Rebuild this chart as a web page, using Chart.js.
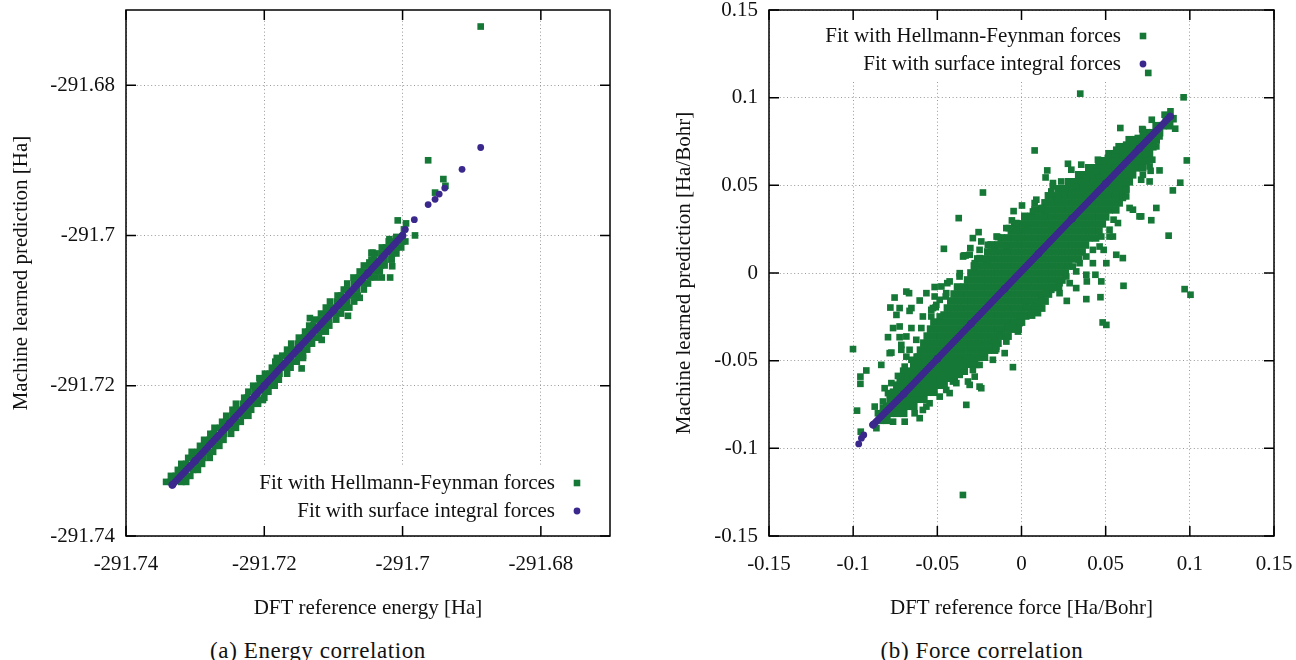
<!DOCTYPE html>
<html>
<head>
<meta charset="utf-8">
<script src="https://cdn.jsdelivr.net/npm/chart.js@4"></script>
<style>
  body { margin: 0; width: 1296px; height: 660px; background: #fff; position: relative; overflow: hidden; }
  canvas { position: absolute; top: 0; }
  .caption { position: absolute; top: 639px; width: 400px; text-align: center; font: 23px "Liberation Serif", serif; letter-spacing: 0.6px; line-height: 23px; color: #111; }
</style>
</head>
<body>
<canvas id="energyChart" width="640" height="625" style="left:0"></canvas>
<canvas id="forceChart" width="646" height="625" style="left:650px"></canvas>
<div class="caption" style="left:118px">(a) Energy correlation</div>
<div class="caption" style="left:782px">(b) Force correlation</div>
<script>
const labelHF = 'Fit with Hellmann-Feynman forces';
const labelSI = 'Fit with surface integral forces';
const green = '#167836';
const blue = '#3a288c';

// (a) energy axes [Ha]
const energyRange = [-291.74, -291.67];
const energyTicks = [-291.74, -291.72, -291.7, -291.68];
const energyTickLabels = ['-291.74', '-291.72', '-291.7', '-291.68'];

// (a) surface integral fit: dense run along the diagonal, then single points
const energySiBandX = [-291.7333, -291.7300, -291.7250, -291.7200, -291.7150, -291.7100, -291.7050, -291.7000];
const energySiBandY = [-291.7332, -291.7300, -291.7250, -291.7200, -291.7150, -291.7100, -291.7050, -291.7000];
const energySiPoints = [
  [-291.6996, -291.6992], [-291.6983, -291.6979], [-291.6963, -291.6959], [-291.6953, -291.6952],
  [-291.6947, -291.6945], [-291.6939, -291.6937], [-291.6914, -291.6912], [-291.6887, -291.6883]
];

// (a) Hellmann-Feynman fit: band rows [prediction, [reference...]] and scattered points [reference, prediction]
const energyHfBandRows = [
  [-291.7328, [-291.7342, -291.7335, -291.7320, -291.7313]],
  [-291.7320, [-291.7335, -291.7328, -291.7313, -291.7307]],
  [-291.7312, [-291.7325, -291.7318, -291.7303, -291.7296]],
  [-291.7304, [-291.7320, -291.7313, -291.7298, -291.7290]],
  [-291.7296, [-291.7310, -291.7303, -291.7288, -291.7279]],
  [-291.7288, [-291.7305, -291.7296, -291.7281, -291.7274]],
  [-291.7280, [-291.7293, -291.7286, -291.7271, -291.7265]],
  [-291.7272, [-291.7287, -291.7279, -291.7264, -291.7259]],
  [-291.7264, [-291.7278, -291.7273, -291.7258, -291.7248]],
  [-291.7256, [-291.7272, -291.7264, -291.7249, -291.7241]],
  [-291.7248, [-291.7261, -291.7255, -291.7240, -291.7234]],
  [-291.7240, [-291.7255, -291.7246, -291.7231, -291.7223]],
  [-291.7232, [-291.7246, -291.7240, -291.7225, -291.7219]],
  [-291.7224, [-291.7241, -291.7231, -291.7216, -291.7209]],
  [-291.7216, [-291.7229, -291.7225, -291.7210, -291.7200]],
  [-291.7208, [-291.7223, -291.7214, -291.7199, -291.7194]],
  [-291.7200, [-291.7216, -291.7208, -291.7193, -291.7185]],
  [-291.7192, [-291.7206, -291.7199, -291.7184, -291.7179]],
  [-291.7184, [-291.7199, -291.7192, -291.7178, -291.7167]],
  [-291.7176, [-291.7189, -291.7182, -291.7168, -291.7162]],
  [-291.7168, [-291.7184, -291.7177, -291.7161, -291.7153]],
  [-291.7160, [-291.7174, -291.7167, -291.7151, -291.7144]],
  [-291.7152, [-291.7167, -291.7160, -291.7146, -291.7138]],
  [-291.7144, [-291.7161, -291.7151, -291.7136, -291.7131]],
  [-291.7136, [-291.7150, -291.7142, -291.7129, -291.7121]],
  [-291.7128, [-291.7141, -291.7136, -291.7119, -291.7111]],
  [-291.7120, [-291.7135, -291.7129, -291.7112, -291.7106]],
  [-291.7112, [-291.7128, -291.7119, -291.7106, -291.7096]],
  [-291.7104, [-291.7118, -291.7110, -291.7097, -291.7089]],
  [-291.7096, [-291.7111, -291.7104, -291.7087, -291.7082]],
  [-291.7088, [-291.7105, -291.7095, -291.7080, -291.7070]],
  [-291.7080, [-291.7094, -291.7089, -291.7073, -291.7065]],
  [-291.7072, [-291.7085, -291.7080, -291.7066, -291.7056]],
  [-291.7064, [-291.7080, -291.7070, -291.7056, -291.7050]],
  [-291.7056, [-291.7071, -291.7063, -291.7047, -291.7039]],
  [-291.7048, [-291.7062, -291.7056, -291.7041, -291.7033]],
  [-291.7040, [-291.7056, -291.7047, -291.7032, -291.7026]],
  [-291.7032, [-291.7045, -291.7041, -291.7026, -291.7016]],
  [-291.7024, [-291.7039, -291.7030, -291.7015, -291.7009]],
  [-291.7016, [-291.7030, -291.7024, -291.7009, -291.7002]],
  [-291.7008, [-291.7020, -291.7015, -291.7000, -291.6996]]
];
const energyHfPoints = [
  [-291.6887, -291.6722], [-291.6963, -291.6900], [-291.6941, -291.6925], [-291.6938, -291.6934],
  [-291.6953, -291.6943], [-291.7007, -291.6980], [-291.6995, -291.6984], [-291.6998, -291.6992],
  [-291.6982, -291.7000], [-291.7019, -291.7005], [-291.7009, -291.7002], [-291.7043, -291.7023],
  [-291.7030, -291.7056], [-291.7018, -291.7056], [-291.7015, -291.7041], [-291.7016, -291.7032],
  [-291.7033, -291.7043], [-291.7038, -291.7045], [-291.7079, -291.7107], [-291.7077, -291.7096],
  [-291.7062, -291.7083], [-291.7048, -291.7036], [-291.7045, -291.7023], [-291.7117, -291.7139],
  [-291.7134, -291.7110], [-291.7144, -291.7163], [-291.7146, -291.7177], [-291.7182, -291.7163],
  [-291.7207, -291.7190], [-291.7202, -291.7219]
];

// (b) force axes [Ha/Bohr]
const forceRange = [-0.15, 0.15];
const forceTicks = [-0.15, -0.1, -0.05, 0, 0.05, 0.1, 0.15];
const forceTickLabels = ['-0.15', '-0.1', '-0.05', '0', '0.05', '0.1', '0.15'];

// (b) surface integral fit
const forceSiBandX = [-0.0882, -0.0700, -0.0500, -0.0300, -0.0100, 0.0100, 0.0300, 0.0500, 0.0700, 0.0884];
const forceSiBandY = [-0.0866, -0.0690, -0.0490, -0.0290, -0.0090, 0.0110, 0.0310, 0.0510, 0.0710, 0.0893];
const forceSiPoints = [[-0.0967, -0.0975], [-0.0951, -0.0942], [-0.0937, -0.0924]];

// (b) Hellmann-Feynman fit: dense core rows [prediction, [reference...]]
const forceHfCoreRows = [
  [-0.084, [-0.084, -0.080]],
  [-0.080, [-0.082, -0.078, -0.074, -0.070]],
  [-0.076, [-0.080, -0.076, -0.072, -0.068, -0.064]],
  [-0.072, [-0.078, -0.074, -0.070, -0.066, -0.062, -0.058]],
  [-0.068, [-0.076, -0.072, -0.068, -0.064, -0.060, -0.056, -0.052]],
  [-0.064, [-0.074, -0.070, -0.066, -0.062, -0.058, -0.054, -0.050, -0.046]],
  [-0.060, [-0.072, -0.068, -0.064, -0.060, -0.056, -0.052, -0.048, -0.044, -0.040]],
  [-0.056, [-0.070, -0.066, -0.062, -0.058, -0.054, -0.050, -0.046, -0.042, -0.038, -0.034]],
  [-0.052, [-0.064, -0.060, -0.056, -0.052, -0.048, -0.044, -0.040, -0.036, -0.032, -0.028]],
  [-0.048, [-0.062, -0.058, -0.054, -0.050, -0.046, -0.042, -0.038, -0.034, -0.030, -0.026, -0.022]],
  [-0.044, [-0.060, -0.056, -0.052, -0.048, -0.044, -0.040, -0.036, -0.032, -0.028, -0.024, -0.020, -0.016]],
  [-0.040, [-0.058, -0.054, -0.050, -0.046, -0.042, -0.038, -0.034, -0.030, -0.026, -0.022, -0.018, -0.014]],
  [-0.036, [-0.056, -0.052, -0.048, -0.044, -0.040, -0.036, -0.032, -0.028, -0.024, -0.020, -0.016, -0.012, -0.008]],
  [-0.032, [-0.054, -0.050, -0.046, -0.042, -0.038, -0.034, -0.030, -0.026, -0.022, -0.018, -0.014, -0.010, -0.006, -0.002]],
  [-0.028, [-0.052, -0.048, -0.044, -0.040, -0.036, -0.032, -0.028, -0.024, -0.020, -0.016, -0.012, -0.008, -0.004, 0.000]],
  [-0.024, [-0.046, -0.042, -0.038, -0.034, -0.030, -0.026, -0.022, -0.018, -0.014, -0.010, -0.006, -0.002, 0.002, 0.006]],
  [-0.020, [-0.044, -0.040, -0.036, -0.032, -0.028, -0.024, -0.020, -0.016, -0.012, -0.008, -0.004, 0.000, 0.004, 0.008, 0.012]],
  [-0.016, [-0.042, -0.038, -0.034, -0.030, -0.026, -0.022, -0.018, -0.014, -0.010, -0.006, -0.002, 0.002, 0.006, 0.010, 0.014]],
  [-0.012, [-0.040, -0.036, -0.032, -0.028, -0.024, -0.020, -0.016, -0.012, -0.008, -0.004, 0.000, 0.004, 0.008, 0.012, 0.016]],
  [-0.008, [-0.038, -0.034, -0.030, -0.026, -0.022, -0.018, -0.014, -0.010, -0.006, -0.002, 0.002, 0.006, 0.010, 0.014, 0.018, 0.022]],
  [-0.004, [-0.032, -0.028, -0.024, -0.020, -0.016, -0.012, -0.008, -0.004, 0.000, 0.004, 0.008, 0.012, 0.016, 0.020, 0.024]],
  [0.000, [-0.030, -0.026, -0.022, -0.018, -0.014, -0.010, -0.006, -0.002, 0.002, 0.006, 0.010, 0.014, 0.018, 0.022, 0.026]],
  [0.004, [-0.028, -0.024, -0.020, -0.016, -0.012, -0.008, -0.004, 0.000, 0.004, 0.008, 0.012, 0.016, 0.020, 0.024, 0.028]],
  [0.008, [-0.026, -0.022, -0.018, -0.014, -0.010, -0.006, -0.002, 0.002, 0.006, 0.010, 0.014, 0.018, 0.022, 0.026, 0.030, 0.034]],
  [0.012, [-0.020, -0.016, -0.012, -0.008, -0.004, 0.000, 0.004, 0.008, 0.012, 0.016, 0.020, 0.024, 0.028, 0.032, 0.036]],
  [0.016, [-0.018, -0.014, -0.010, -0.006, -0.002, 0.002, 0.006, 0.010, 0.014, 0.018, 0.022, 0.026, 0.030, 0.034, 0.038]],
  [0.020, [-0.012, -0.008, -0.004, 0.000, 0.004, 0.008, 0.012, 0.016, 0.020, 0.024, 0.028, 0.032, 0.036, 0.040, 0.044]],
  [0.024, [-0.006, -0.002, 0.002, 0.006, 0.010, 0.014, 0.018, 0.022, 0.026, 0.030, 0.034, 0.038, 0.042, 0.046]],
  [0.028, [-0.004, 0.000, 0.004, 0.008, 0.012, 0.016, 0.020, 0.024, 0.028, 0.032, 0.036, 0.040, 0.044, 0.048]],
  [0.032, [0.002, 0.006, 0.010, 0.014, 0.018, 0.022, 0.026, 0.030, 0.034, 0.038, 0.042, 0.046, 0.050]],
  [0.036, [0.008, 0.012, 0.016, 0.020, 0.024, 0.028, 0.032, 0.036, 0.040, 0.044, 0.048, 0.052, 0.056]],
  [0.040, [0.014, 0.018, 0.022, 0.026, 0.030, 0.034, 0.038, 0.042, 0.046, 0.050, 0.054, 0.058]],
  [0.044, [0.016, 0.020, 0.024, 0.028, 0.032, 0.036, 0.040, 0.044, 0.048, 0.052, 0.056, 0.060]],
  [0.048, [0.022, 0.026, 0.030, 0.034, 0.038, 0.042, 0.046, 0.050, 0.054, 0.058, 0.062]],
  [0.052, [0.028, 0.032, 0.036, 0.040, 0.044, 0.048, 0.052, 0.056, 0.060, 0.064]],
  [0.056, [0.034, 0.038, 0.042, 0.046, 0.050, 0.054, 0.058, 0.062, 0.066]],
  [0.060, [0.040, 0.044, 0.048, 0.052, 0.056, 0.060, 0.064, 0.068, 0.072]],
  [0.064, [0.046, 0.050, 0.054, 0.058, 0.062, 0.066, 0.070, 0.074]],
  [0.068, [0.052, 0.056, 0.060, 0.064, 0.068, 0.072, 0.076]],
  [0.072, [0.058, 0.062, 0.066, 0.070, 0.074, 0.078]],
  [0.076, [0.064, 0.068, 0.072, 0.076, 0.080]],
  [0.080, [0.074, 0.078, 0.082]],
  [0.084, [0.080, 0.084, 0.088]],
  [0.088, [0.086, 0.090]]
];

// (b) Hellmann-Feynman fit: ragged points along both edges of the core [reference, prediction]
const forceHfEdgePoints = [
  [0.0187, 0.0513], [0.0177, 0.0465], [0.0197, 0.0418], [0.0088, 0.0418], [0.0118, 0.0370],
  [0.0068, 0.0351], [0.0137, 0.0323], [0.0177, 0.0265], [0.0028, 0.0247], [-0.0031, 0.0247],
  [-0.0011, 0.0199], [-0.0090, 0.0151], [-0.0140, 0.0205], [-0.0200, 0.0161], [-0.0249, 0.0132],
  [-0.0308, 0.0104], [-0.0278, 0.0037], [-0.0368, -0.0020], [-0.0427, -0.0048], [-0.0476, -0.0077],
  [-0.0447, -0.0115], [-0.0516, -0.0134], [-0.0506, -0.0182], [-0.0536, -0.0210], [-0.0486, -0.0248],
  [0.0622, 0.0437], [0.0701, 0.0323], [0.0662, 0.0361], [0.0573, 0.0285], [0.0523, 0.0247],
  [0.0543, 0.0208], [0.0464, 0.0151], [0.0424, 0.0132], [0.0385, 0.0094], [0.0345, 0.0056],
  [0.0305, 0.0037], [0.0325, 0.0009], [0.0266, -0.0020], [0.0226, -0.0058], [0.0187, -0.0086],
  [0.0147, -0.0115], [0.0108, -0.0172], [0.0028, -0.0191], [-0.0011, -0.0248], [-0.0051, -0.0305],
  [-0.0130, -0.0353], [-0.0150, -0.0420], [-0.0229, -0.0457], [-0.0249, -0.0524], [-0.0289, -0.0553],
  [-0.0348, -0.0534], [-0.0387, -0.0628], [-0.0427, -0.0685], [-0.0486, -0.0705], [-0.0546, -0.0743],
  [-0.0586, -0.0781], [-0.0635, -0.0800], [-0.0684, -0.0362], [-0.0714, -0.0410], [-0.0625, -0.0381],
  [-0.0654, -0.0495], [-0.0694, -0.0534], [-0.0714, -0.0591], [-0.0743, -0.0648], [-0.0793, -0.0685],
  [-0.0823, -0.0733], [-0.0853, -0.0800], [-0.0586, -0.0248], [-0.0526, -0.0200], [-0.0486, -0.0153],
  [0.0721, 0.0789], [0.0662, 0.0732], [0.0602, 0.0684], [0.0523, 0.0636], [0.0444, 0.0579],
  [0.0385, 0.0542], [0.0325, 0.0494], [0.0256, 0.0446], [0.0216, 0.0408], [0.0801, 0.0722],
  [0.0820, 0.0779], [0.0761, 0.0608], [0.0721, 0.0560]
];

// (b) Hellmann-Feynman fit: scattered points [reference, prediction]
const forceHfPoints = [
  [-0.0229, 0.0459], [-0.0373, 0.0313], [-0.0461, 0.0138], [-0.0255, 0.0233], [-0.0289, 0.0199],
  [-0.0516, -0.0080], [-0.0565, -0.0115], [-0.0668, -0.0115], [-0.0754, -0.0140], [-0.0684, -0.0106],
  [-0.0332, 0.0100], [-0.0239, 0.0180], [0.0078, 0.0699], [0.0153, 0.0585], [0.0143, 0.0545],
  [0.0003, 0.0385], [-0.0047, 0.0353], [0.0018, 0.0326], [-0.0057, 0.0300], [-0.0075, 0.0256],
  [-0.0148, 0.0208], [-0.0304, 0.0142], [-0.0160, 0.0128], [-0.0342, 0.0100], [-0.0209, 0.0075],
  [-0.0278, 0.0056], [-0.0367, -0.0001], [-0.0441, -0.0058], [-0.0450, -0.0134], [-0.0605, -0.0157],
  [-0.0724, -0.0200], [-0.0779, -0.0197], [-0.0743, -0.0239], [-0.0654, -0.0200], [-0.0510, -0.0195],
  [-0.0536, -0.0248], [-0.0763, -0.0314], [-0.0724, -0.0305], [-0.0654, -0.0314], [-0.0595, -0.0314],
  [0.0753, 0.1141], [0.0349, 0.1023], [0.0963, 0.1002], [0.0885, 0.0922], [0.0774, 0.0874],
  [0.0913, 0.0823], [0.0587, 0.0827], [0.0717, 0.0821], [0.0982, 0.0642], [0.0276, 0.0623],
  [0.0454, 0.0646], [0.0767, 0.0583], [0.0820, 0.0585], [0.0711, 0.0532], [0.0761, 0.0522],
  [0.0943, 0.0515], [0.0899, 0.0471], [0.0801, 0.0371], [0.0771, 0.0301], [0.0874, 0.0213],
  [0.0711, 0.0323], [0.0642, 0.0371], [0.0602, 0.0428], [0.0622, 0.0475], [0.0547, 0.0304],
  [0.0523, 0.0208], [0.0488, 0.0132], [0.0563, 0.0104], [0.0602, 0.0085], [0.0424, 0.0056],
  [0.0474, -0.0048], [0.0606, -0.0073], [0.0969, -0.0092], [0.1004, -0.0124], [0.0777, 0.0646],
  [0.0469, -0.0138], [0.0385, -0.0149], [0.0269, -0.0159], [0.0482, -0.0282], [0.0504, -0.0296],
  [0.0474, 0.0208], [0.0504, 0.0056], [0.0385, -0.0010], [0.0439, -0.0010], [0.0388, -0.0048],
  [0.0286, -0.0058], [0.0325, -0.0086], [0.0118, -0.0143], [0.0226, -0.0115], [0.0177, -0.0096],
  [0.0078, -0.0191], [0.0098, -0.0229], [0.0028, -0.0248], [-0.0011, -0.0286], [-0.0081, -0.0309],
  [0.0054, 0.0326], [-0.0090, 0.0256], [-0.0031, 0.0285], [0.0078, 0.0399], [0.0127, 0.0371],
  [0.0186, 0.0494], [0.0236, 0.0522], [0.0296, 0.0589], [0.0355, 0.0618], [0.0513, 0.0656],
  [0.0563, 0.0703], [0.0622, 0.0732], [0.0691, 0.0770], [0.0721, 0.0817], [0.0850, 0.0903],
  [-0.1001, -0.0434], [-0.0922, -0.0556], [-0.0957, -0.0591], [-0.0957, -0.0632], [-0.0833, -0.0524],
  [-0.0665, -0.0216], [-0.0793, -0.0366], [-0.0724, -0.0366], [-0.0773, -0.0454], [-0.0714, -0.0438],
  [-0.0665, -0.0438], [-0.0684, -0.0477], [-0.0615, -0.0477], [-0.0813, -0.0657], [-0.0773, -0.0628],
  [-0.0734, -0.0587], [-0.0872, -0.0762], [-0.0823, -0.0771], [-0.0763, -0.0848], [-0.0694, -0.0848],
  [-0.0605, -0.0828], [-0.0763, -0.0800], [-0.0565, -0.0762], [-0.0862, -0.0885], [-0.0977, -0.0785],
  [-0.0447, -0.0667], [-0.0328, -0.0752], [-0.0367, -0.0581], [-0.0407, -0.0619], [-0.0249, -0.0648],
  [-0.0278, -0.0591], [-0.0318, -0.0619], [-0.0170, -0.0495], [-0.0051, -0.0537], [-0.0160, -0.0381],
  [-0.0021, -0.0314], [0.0058, -0.0239], [-0.0308, -0.0486], [-0.0347, 0.0094], [-0.0249, 0.0085],
  [-0.0783, -0.0457], [-0.0955, -0.0905], [-0.0348, -0.1266], [-0.0308, -0.0638], [-0.0239, -0.0657],
  [-0.0268, -0.0524], [-0.0090, -0.0391], [-0.0150, -0.0434], [-0.0100, -0.0457], [-0.0021, -0.0334]
];

const serif = '"Liberation Serif", "Times New Roman", serif';

function rowsToPoints(rows) {
  return rows.flatMap(([y, xs]) => xs.map(x => ({x, y})));
}
function pairsToPoints(pairs) {
  return pairs.map(([x, y]) => ({x, y}));
}
function zipPoints(xs, ys) {
  return xs.map((x, i) => ({x, y: ys[i]}));
}

// gnuplot look: white key box behind the data, border with inward tics, key on top
function keyLayout(chart, opts) {
  const a = chart.chartArea;
  const entries = chart.data.datasets.filter(d => d.inKey).sort((p, q) => p.inKey - q.inKey);
  const symbolX = a.right - opts.symbolInset;
  const firstRow = opts.corner === 'top' ? a.top + opts.rowInset : a.bottom - opts.rowInset - opts.rowGap * (entries.length - 1);
  const rows = entries.map((e, i) => firstRow + i * opts.rowGap);
  const ctx = chart.ctx;
  ctx.save();
  ctx.font = '21px ' + serif;
  const textWidth = Math.max(...entries.map(e => ctx.measureText(e.label).width));
  ctx.restore();
  const textRight = symbolX - 22;
  return {
    entries, rows, symbolX, textRight,
    box: [textRight - textWidth - 8, rows[0] - 16, symbolX + 12, rows[rows.length - 1] + 17]
  };
}

const gnuplotLook = {
  id: 'gnuplotLook',
  beforeDatasetsDraw(chart, args, opts) {
    const k = keyLayout(chart, opts);
    const ctx = chart.ctx;
    ctx.save();
    ctx.fillStyle = '#fff';
    ctx.fillRect(k.box[0], k.box[1], k.box[2] - k.box[0], k.box[3] - k.box[1]);
    ctx.restore();
  },
  afterDatasetsDraw(chart, args, opts) {
    const {ctx, chartArea: a, scales} = chart;
    ctx.save();
    ctx.strokeStyle = '#000';
    ctx.lineWidth = 1.5;
    ctx.beginPath();
    scales.x.ticks.forEach(t => {
      const px = scales.x.getPixelForValue(t.value);
      ctx.moveTo(px, a.bottom); ctx.lineTo(px, a.bottom - 10);
      ctx.moveTo(px, a.top); ctx.lineTo(px, a.top + 10);
    });
    scales.y.ticks.forEach(t => {
      const py = scales.y.getPixelForValue(t.value);
      ctx.moveTo(a.left, py); ctx.lineTo(a.left + 10, py);
      ctx.moveTo(a.right, py); ctx.lineTo(a.right - 10, py);
    });
    ctx.stroke();
    ctx.strokeRect(a.left, a.top, a.right - a.left, a.bottom - a.top);

    const k = keyLayout(chart, opts);
    ctx.font = '21px ' + serif;
    ctx.textAlign = 'right';
    ctx.textBaseline = 'middle';
    k.entries.forEach((e, i) => {
      const y = k.rows[i];
      ctx.fillStyle = '#111';
      ctx.fillText(e.label, k.textRight, y);
      ctx.fillStyle = e.backgroundColor;
      if (e.pointStyle === 'rect') {
        ctx.fillRect(k.symbolX - 3.3, y - 3.3, 6.6, 6.6);
      } else {
        ctx.beginPath();
        ctx.arc(k.symbolX, y, 3.4, 0, Math.PI * 2);
        ctx.fill();
      }
    });
    ctx.restore();
  }
};

function axis(kind, title, range, ticks, labels, size, titlePad) {
  return {
    type: 'linear',
    min: range[0],
    max: range[1],
    afterBuildTicks: s => { s.ticks = ticks.map(v => ({value: v})); },
    afterFit: s => {
      if (kind === 'x') s.height = size; else s.width = size;
      // the plot frame is placed by layout.padding alone
      s.paddingTop = s.paddingBottom = s.paddingLeft = s.paddingRight = 0;
    },
    ticks: {
      autoSkip: false, maxRotation: 0, color: '#111',
      padding: kind === 'x' ? 16 : 11,
      font: {family: serif, size: 21},
      callback: (v, i) => labels[i]
    },
    grid: {color: '#999', lineWidth: 1, drawTicks: false},
    border: {display: false, dash: [1, 2.6]},
    title: {
      display: true, text: title, color: '#111',
      font: {family: serif, size: 21},
      padding: kind === 'x' ? {top: 0, bottom: titlePad} : {top: titlePad, bottom: 0}
    }
  };
}

function hfDataset(data, radius, inKey) {
  return {
    label: labelHF, data, inKey,
    pointStyle: 'rect', pointRadius: radius, pointBorderWidth: 0,
    backgroundColor: green, borderColor: green
  };
}
function siDataset(data, inKey) {
  return {
    label: labelSI, data, inKey,
    pointStyle: 'circle', pointRadius: 3.4, pointBorderWidth: 0,
    backgroundColor: blue, borderColor: blue
  };
}
function siBandDataset(data) {
  return Object.assign(siDataset(data, 0), {
    showLine: true, borderWidth: 7, borderCapStyle: 'round', borderJoinStyle: 'round', pointRadius: 3.8
  });
}

function chartOptions(xTitle, yTitle, range, ticks, labels, yAxisWidth, yTitlePad, padRight, key) {
  return {
    responsive: false,
    animation: false,
    events: [],
    layout: {padding: {top: 10, right: padRight, bottom: 0, left: 0}},
    scales: {
      x: axis('x', xTitle, range, ticks, labels, 89, 4),
      y: axis('y', yTitle, range, ticks, labels, yAxisWidth, yTitlePad)
    },
    plugins: {
      legend: {display: false},
      tooltip: {enabled: false},
      gnuplotLook: key
    }
  };
}

new Chart(document.getElementById('energyChart'), {
  type: 'scatter',
  data: {
    datasets: [
      siBandDataset(zipPoints(energySiBandX, energySiBandY)),
      siDataset(pairsToPoints(energySiPoints), 2),
      hfDataset(rowsToPoints(energyHfBandRows).concat(pairsToPoints(energyHfPoints)), 4.7, 1)
    ]
  },
  options: chartOptions('DFT reference energy [Ha]', 'Machine learned prediction [Ha]',
    energyRange, energyTicks, energyTickLabels, 126, 9, 30,
    {corner: 'bottom', symbolInset: 33, rowInset: 25, rowGap: 28}),
  plugins: [gnuplotLook]
});

new Chart(document.getElementById('forceChart'), {
  type: 'scatter',
  data: {
    datasets: [
      siBandDataset(zipPoints(forceSiBandX, forceSiBandY)),
      siDataset(pairsToPoints(forceSiPoints), 2),
      hfDataset(pairsToPoints(forceHfPoints.concat(forceHfEdgePoints)), 4.7, 1),
      hfDataset(rowsToPoints(forceHfCoreRows), 5.4, 0)
    ]
  },
  options: chartOptions('DFT reference force [Ha/Bohr]', 'Machine learned prediction [Ha/Bohr]',
    forceRange, forceTicks, forceTickLabels, 119, 22, 22,
    {corner: 'top', symbolInset: 131, rowInset: 26, rowGap: 28}),
  plugins: [gnuplotLook]
});
</script>
</body>
</html>
